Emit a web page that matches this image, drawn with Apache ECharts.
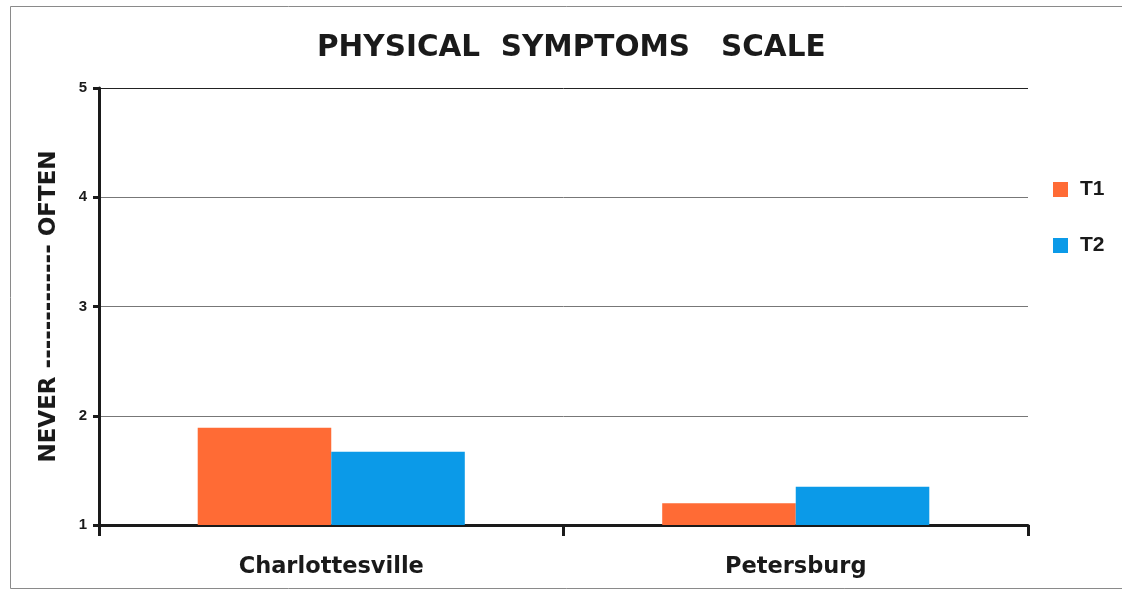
<!DOCTYPE html>
<html>
<head>
<meta charset="utf-8">
<script src="https://cdn.jsdelivr.net/npm/echarts@6/dist/echarts.min.js"></script>
<style>
  html, body { margin: 0; padding: 0; background: #fff; }
  #chart { width: 1122px; height: 592px; }
</style>
</head>
<body>
<div id="chart"></div>
<script>
// Mean scores on the physical symptoms scale (1 = never, 5 = often)
const sites = ['Charlottesville', 'Petersburg'];
const t1Scores = [1.89, 1.20];
const t2Scores = [1.67, 1.35];
const seriesNames = ['T1', 'T2'];
const yTicks = [1, 2, 3, 4, 5];

const WIDE = '"DejaVu Sans", sans-serif';
const NARROW = '"Liberation Sans", Arial, sans-serif';
const INK = '#1a1a1a';
const chart = echarts.init(document.getElementById('chart'), null, { renderer: 'canvas' });

chart.setOption({
  backgroundColor: '#fff',
  animation: false,
  title: {
    text: 'PHYSICAL  SYMPTOMS   SCALE',
    left: 317,
    top: 33,
    padding: 0,
    textStyle: { fontFamily: WIDE, fontWeight: 'bold', fontSize: 29.5, color: INK }
  },
  graphic: [{
    type: 'rect',
    shape: { x: 10.5, y: 6.5, width: 1130, height: 582 },
    style: { fill: 'none', stroke: '#8a8a8a', lineWidth: 1 },
    silent: true
  }],
  legend: {
    orient: 'vertical',
    left: 1048,
    top: 174,
    itemGap: 35,
    itemWidth: 15,
    itemHeight: 15,
    icon: 'rect',
    data: seriesNames,
    textStyle: { fontFamily: NARROW, fontWeight: 'bold', fontSize: 21, color: INK, padding: [0, 0, 0, 7] }
  },
  grid: { left: 99, right: 94, top: 88, bottom: 67 },
  xAxis: {
    type: 'category',
    data: sites,
    axisLine: { lineStyle: { color: INK, width: 3 } },
    axisTick: { show: true, interval: 0, length: 11, lineStyle: { color: INK, width: 3 } },
    axisLabel: {
      margin: 31,
      fontFamily: WIDE, fontWeight: 'bold', fontSize: 22.5, color: INK
    }
  },
  yAxis: {
    type: 'value',
    min: yTicks[0],
    max: yTicks[yTicks.length - 1],
    interval: 1,
    name: 'NEVER ------------- OFTEN',
    nameLocation: 'middle',
    nameGap: 38,
    nameRotate: 90,
    nameTextStyle: { fontFamily: WIDE, fontWeight: 'bold', fontSize: 23, color: INK },
    axisLine: { show: true, lineStyle: { color: INK, width: 3 } },
    axisTick: { show: true, length: 6, lineStyle: { color: INK, width: 3 } },
    axisLabel: {
      margin: 12,
      fontFamily: NARROW, fontWeight: 'bold', fontSize: 15, color: INK
    },
    splitLine: { show: true, lineStyle: { color: ['#777', '#777', '#777', '#777', '#222'], width: 1 } }
  },
  series: [
    {
      name: seriesNames[0],
      type: 'bar',
      data: t1Scores,
      barGap: '0%',
      barCategoryGap: '42.5%',
      itemStyle: { color: '#FF6B35' }
    },
    {
      name: seriesNames[1],
      type: 'bar',
      data: t2Scores,
      barGap: '0%',
      barCategoryGap: '42.5%',
      itemStyle: { color: '#0B9AE8' }
    }
  ]
});
</script>
</body>
</html>
